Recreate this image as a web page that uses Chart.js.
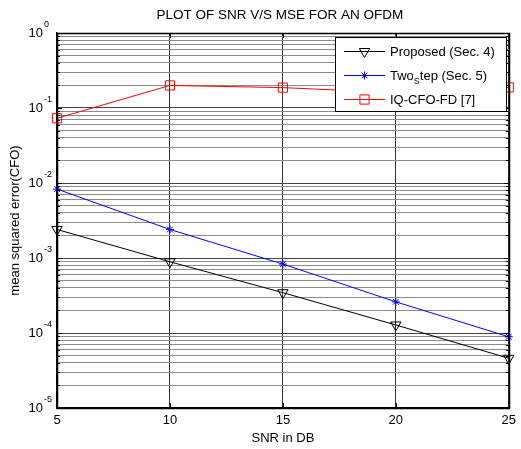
<!DOCTYPE html>
<html>
<head>
<meta charset="utf-8">
<script src="https://cdn.jsdelivr.net/npm/chart.js@4.4.1/dist/chart.umd.min.js"></script>
<style>
  html, body { margin: 0; padding: 0; background: #fff; }
  #wrap { width: 521px; height: 449px; }
</style>
</head>
<body>
<div id="wrap"><canvas id="mseChart"></canvas></div>
<script>
const snrLabels = [5, 10, 15, 20, 25];
const proposed = [2.4e-3, 8.9e-4, 3.45e-4, 1.28e-4, 4.6e-5];
const twoStep = [8.3e-3, 2.4e-3, 8.3e-4, 2.6e-4, 8.9e-5];
const iqCfoFd = [0.073, 0.2, 0.187, 0.16, 0.188];
const decadeExps = [-5, -4, -3, -2, -1, 0];

const FONT = '"Liberation Sans", Arial, sans-serif';

// 1..9 ticks per decade, like matlab's minor grid
const logTicks = [];
decadeExps.forEach((e) => {
  for (let m = 1; m <= 9; m++) {
    const v = m * Math.pow(10, e);
    if (v <= 1) logTicks.push(v);
  }
});
const isDecade = (v) => Math.abs(Math.log10(v) - Math.round(Math.log10(v))) < 1e-9;

const pts = (ys) => snrLabels.map((x, i) => ({ x: x, y: ys[i] }));

const seriesStyle = [
  { label: 'Proposed (Sec. 4)', color: '#000000', pointStyle: 'triangle', rotation: 180, radius: 6 },
  { label: 'Two', sub: 'S', rest: 'tep (Sec. 5)', color: '#0000ff', pointStyle: 'star', rotation: 0, radius: 4 },
  { label: 'IQ-CFO-FD [7]', color: '#ff0000', pointStyle: 'rect', rotation: 0, radius: 6.5 },
];

const lineData = {
  datasets: [proposed, twoStep, iqCfoFd].map((ys, i) => ({
    label: seriesStyle[i].label,
    data: pts(ys),
    borderColor: seriesStyle[i].color,
    backgroundColor: 'transparent',
    borderWidth: 1,
    pointStyle: seriesStyle[i].pointStyle,
    pointRotation: seriesStyle[i].rotation,
    pointRadius: seriesStyle[i].radius,
    pointBorderColor: seriesStyle[i].color,
    pointBackgroundColor: 'transparent',
    pointBorderWidth: 1,
    tension: 0,
    clip: false,
  })),
};

// box, inside ticks, y labels with superscripts, title and legend
const matlabLook = {
  id: 'matlabLook',
  afterDraw(chart) {
    const ctx = chart.ctx;
    const a = chart.chartArea;
    const xs = chart.scales.x;
    const ys = chart.scales.y;
    ctx.save();

    // ticks pointing inward
    ctx.strokeStyle = '#000';
    ctx.lineWidth = 1;
    ctx.beginPath();
    snrLabels.forEach((v) => {
      const px = Math.round(xs.getPixelForValue(v)) + 0.5;
      ctx.moveTo(px, a.bottom); ctx.lineTo(px, a.bottom - 5);
      ctx.moveTo(px, a.top); ctx.lineTo(px, a.top + 5);
    });
    logTicks.forEach((v) => {
      const py = Math.round(ys.getPixelForValue(v)) + 0.5;
      const len = isDecade(v) ? 5 : 3;
      ctx.moveTo(a.left, py); ctx.lineTo(a.left + len, py);
      ctx.moveTo(a.right, py); ctx.lineTo(a.right - len, py);
    });
    ctx.stroke();

    // axes box
    ctx.lineWidth = 1.5;
    ctx.strokeRect(Math.round(a.left) + 0.5, Math.round(a.top) + 0.5,
      Math.round(a.right - a.left), Math.round(a.bottom - a.top));

    // y labels 10^n
    ctx.fillStyle = '#000';
    ctx.textBaseline = 'middle';
    decadeExps.forEach((e) => {
      const py = ys.getPixelForValue(Math.pow(10, e));
      ctx.font = '13px ' + FONT;
      ctx.textAlign = 'right';
      ctx.fillText('10', a.left - 14, py);
      ctx.font = '9px ' + FONT;
      ctx.textAlign = 'left';
      ctx.fillText(String(e), a.left - 13, py - 8);
    });

    // title
    ctx.font = '13.5px ' + FONT;
    ctx.textAlign = 'center';
    ctx.fillText('PLOT OF SNR V/S MSE FOR AN OFDM', (a.left + a.right) / 2 - 3, 15);

    // legend
    const bx = 335, by = 37, bw = 171, bh = 74;
    ctx.fillStyle = '#fff';
    ctx.fillRect(bx, by, bw, bh);
    ctx.lineWidth = 1;
    ctx.strokeStyle = '#000';
    ctx.strokeRect(bx + 0.5, by + 0.5, bw, bh);
    const rowY = [51, 75, 99];
    seriesStyle.forEach((s, i) => {
      const y = rowY[i] + 0.5;
      ctx.strokeStyle = s.color;
      ctx.fillStyle = 'rgba(0,0,0,0)';
      ctx.lineWidth = 1;
      Chart.helpers.drawPoint(ctx, {
        pointStyle: s.pointStyle, rotation: s.rotation, radius: s.radius, borderWidth: 1,
      }, 364.5, y);
      ctx.strokeStyle = s.color;
      ctx.lineWidth = 1;
      ctx.beginPath();
      ctx.moveTo(344, y); ctx.lineTo(385, y);
      ctx.stroke();
      ctx.fillStyle = '#000';
      ctx.textAlign = 'left';
      ctx.textBaseline = 'middle';
      ctx.font = '13px ' + FONT;
      if (s.sub) {
        let tx = 390;
        ctx.fillText(s.label, tx, y + 1);
        tx += ctx.measureText(s.label).width;
        ctx.font = '9px ' + FONT;
        ctx.fillText(s.sub, tx, y + 6);
        tx += ctx.measureText(s.sub).width;
        ctx.font = '13px ' + FONT;
        ctx.fillText(s.rest, tx, y + 1);
      } else {
        ctx.fillText(s.label, 390, y + 1);
      }
    });
    ctx.restore();
  },
};

const lineConfig = {
  type: 'line',
  data: lineData,
  options: {
    responsive: true,
    maintainAspectRatio: false,
    animation: false,
    layout: { padding: { top: 33, right: 9, left: 0, bottom: 0 } },
    plugins: {
      legend: { display: false },
      title: { display: false },
      tooltip: { enabled: false },
    },
    scales: {
      x: {
        type: 'linear',
        min: 5,
        max: 25,
        afterFit: (s) => { s.height = 41; },
        ticks: {
          stepSize: 5,
          color: '#000',
          padding: 5,
          font: { family: FONT, size: 13 },
        },
        grid: { color: '#333', lineWidth: 1, drawTicks: false },
        border: { display: true, color: '#000', width: 1.5 },
        title: {
          display: true,
          text: 'SNR in DB',
          color: '#000',
          font: { family: FONT, size: 13 },
          padding: { top: 0, bottom: 3 },
        },
      },
      y: {
        type: 'logarithmic',
        min: 1e-5,
        max: 1,
        afterBuildTicks: (s) => { s.ticks = logTicks.map((v) => ({ value: v, major: isDecade(v) })); },
        afterFit: (s) => { s.width = 57; },
        ticks: { display: false, autoSkip: false },
        grid: {
          drawTicks: false,
          lineWidth: 1,
          color: (c) => (c.tick && isDecade(c.tick.value) ? '#444' : '#8c8c8c'),
        },
        border: { display: true, color: '#000', width: 1.5 },
        title: {
          display: true,
          text: 'mean squared error(CFO)',
          color: '#000',
          font: { family: FONT, size: 13 },
          padding: { top: 8, bottom: 0 },
        },
      },
    },
  },
  plugins: [matlabLook],
};

let mseChart = new Chart(document.getElementById('mseChart'), lineConfig);
</script>
</body>
</html>
